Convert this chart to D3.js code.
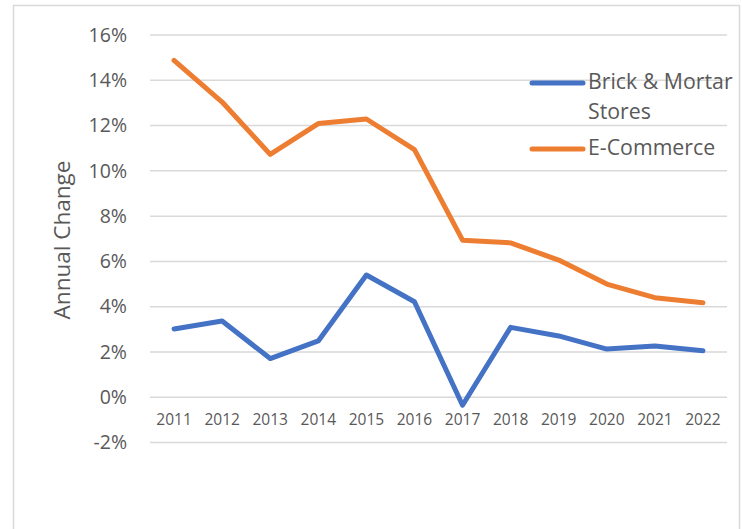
<!DOCTYPE html>
<html>
<head>
<meta charset="utf-8">
<script src="https://cdn.jsdelivr.net/npm/d3@7"></script>
<style>
  body { margin: 0; background: #fff; }
  svg text { font-family: "Open Sans", sans-serif; fill: #595959; }
</style>
</head>
<body>
<div id="chart"></div>
<script>
// data
var years = ["2011","2012","2013","2014","2015","2016","2017","2018","2019","2020","2021","2022"];
var brickMortar = [3.02, 3.37, 1.71, 2.49, 5.40, 4.22, -0.35, 3.09, 2.71, 2.13, 2.27, 2.06];
var eCommerce = [14.88, 13.04, 10.73, 12.09, 12.29, 10.94, 6.94, 6.82, 6.06, 5.00, 4.40, 4.18];
var yTicks = [-2, 0, 2, 4, 6, 8, 10, 12, 14, 16];
var seriesNames = ["Brick & Mortar Stores", "E-Commerce"];
var colours = ["#4472C4", "#ED7D31"];

var width = 742, height = 529;
var margin = {top: 35, right: 15, bottom: 86, left: 150};

var svg = d3.select("#chart").append("svg")
  .attr("width", width)
  .attr("height", height);

// chart frame
svg.append("rect")
  .attr("x", 13.5).attr("y", 5.5)
  .attr("width", 726).attr("height", 540)
  .attr("fill", "none")
  .attr("stroke", "#d9d9d9")
  .attr("stroke-width", 1.5);

var x = d3.scaleBand()
  .domain(years)
  .range([margin.left, 727]);

var y = d3.scaleLinear()
  .domain([-2, 16])
  .range([442.6, 35]);

// gridlines
svg.append("g")
  .selectAll("line")
  .data(yTicks)
  .enter().append("line")
  .attr("x1", margin.left).attr("x2", 727)
  .attr("y1", function(d) { return y(d); })
  .attr("y2", function(d) { return y(d); })
  .attr("stroke", "#d9d9d9")
  .attr("stroke-width", 1.5);

// y axis labels
var yAxis = svg.append("g")
  .attr("transform", "translate(127,0)")
  .call(d3.axisLeft(y).tickValues(yTicks).tickSize(0).tickPadding(0)
    .tickFormat(function(d) { return d + "%"; }));
yAxis.select(".domain").remove();
yAxis.selectAll("text")
  .attr("font-size", 19.5)
  .attr("font-family", "Open Sans, sans-serif")
  .attr("fill", "#595959");

// x axis labels sit just under the 0% line
var xAxis = svg.append("g")
  .attr("transform", "translate(0," + y(0) + ")")
  .call(d3.axisBottom(x).tickSize(0).tickPadding(17));
xAxis.select(".domain").remove();
xAxis.selectAll("text")
  .attr("font-size", 15.5)
  .attr("font-family", "Open Sans, sans-serif")
  .attr("fill", "#595959");

// axis title
svg.append("text")
  .attr("transform", "translate(64,240) rotate(-90)")
  .attr("text-anchor", "middle")
  .attr("dominant-baseline", "middle")
  .attr("font-size", 22.5)
  .text("Annual Change");

var line = d3.line()
  .x(function(d, i) { return x(years[i]) + x.bandwidth() / 2; })
  .y(function(d) { return y(d); });

[brickMortar, eCommerce].forEach(function(vals, i) {
  svg.append("path")
    .datum(vals)
    .attr("d", line)
    .attr("fill", "none")
    .attr("stroke", colours[i])
    .attr("stroke-width", 5)
    .attr("stroke-linejoin", "round")
    .attr("stroke-linecap", "round");
});

// legend
var legend = svg.append("g");
var legendY = [83, 149];
seriesNames.forEach(function(name, i) {
  legend.append("line")
    .attr("x1", 532).attr("x2", 583)
    .attr("y1", legendY[i]).attr("y2", legendY[i])
    .attr("stroke", colours[i])
    .attr("stroke-width", 5)
    .attr("stroke-linecap", "round");
});
var t1 = legend.append("text")
  .attr("x", 588).attr("y", legendY[0])
  .attr("font-size", 21.3)
  .attr("dominant-baseline", "middle");
t1.append("tspan").attr("x", 588).text("Brick & Mortar");
t1.append("tspan").attr("x", 588).attr("dy", 30).text("Stores");
legend.append("text")
  .attr("x", 588).attr("y", legendY[1])
  .attr("font-size", 21.3)
  .attr("dominant-baseline", "middle")
  .text("E-Commerce");
</script>
</body>
</html>
